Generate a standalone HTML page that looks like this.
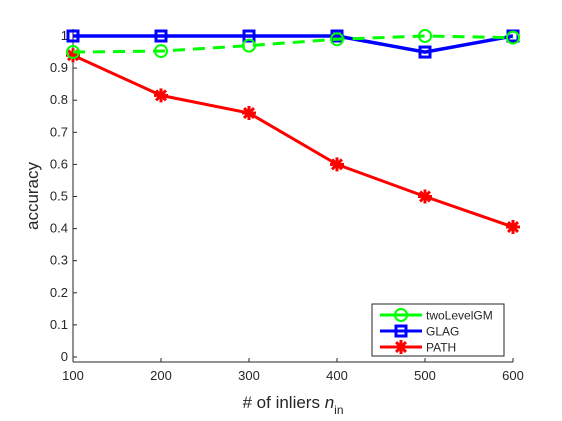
<!DOCTYPE html>
<html><head><meta charset="utf-8"><style>
body{margin:0;background:#fff;}
svg{display:block;font-family:"Liberation Sans",sans-serif;}
</style></head><body>
<svg id="chart" width="562" height="421">
<g id="axes"></g>
<g id="series"></g>
<g id="legend"></g>
</svg>
<script>
const categories=[100,200,300,400,500,600];
const twoLevelGM=[0.95,0.953,0.97,0.99,1.0,0.995];
const glag=[1,1,1,1,0.95,1];
const pathVals=[0.94,0.815,0.76,0.60,0.50,0.405];
const yTicks=[0,0.1,0.2,0.3,0.4,0.5,0.6,0.7,0.8,0.9,1];
const yTickLabels=["0","0.1","0.2","0.3","0.4","0.5","0.6","0.7","0.8","0.9","1"];
const NS="http://www.w3.org/2000/svg";
const X=v=>73+(v-100)/500*440;
const Y=v=>357-v*321;
function mk(tag,attrs,parent,text){const e=document.createElementNS(NS,tag);for(const k in attrs)e.setAttribute(k,attrs[k]);if(text!==undefined)e.textContent=text;parent.appendChild(e);return e;}
const ax=document.getElementById('axes');
let l=mk('line',{x1:73,y1:362,x2:513,y2:362,stroke:'#262626','stroke-width':1},ax);


l=mk('line',{x1:73,y1:362,x2:73,y2:29,stroke:'#262626','stroke-width':1},ax);


categories.forEach(c=>{
 mk('line',{x1:X(c),y1:362,x2:X(c),y2:358,stroke:'#262626'},ax);
 const t=mk('text',{x:X(c),y:380,'text-anchor':'middle','font-size':13,fill:'#262626'},ax,String(c));
 
 
});
yTicks.forEach((v,i)=>{
 mk('line',{x1:73,y1:Y(v),x2:77,y2:Y(v),stroke:'#262626'},ax);
 const t=mk('text',{x:68,y:Y(v)+4,'text-anchor':'end','font-size':13,fill:'#262626'},ax,yTickLabels[i]);
 
 
});
let t=mk('text',{x:293,y:408,'text-anchor':'middle','font-size':17,fill:'#262626'},ax);


t.innerHTML='# of inliers <tspan font-style="italic">n</tspan><tspan font-size="12" dy="6">in</tspan>';
t=mk('text',{x:38,y:196,'text-anchor':'middle','font-size':17,fill:'#262626',transform:'rotate(-90 38 196)'},ax,'accuracy');


const sg=document.getElementById('series');
function marker(kind,x,y,color,g){
 if(kind==='o')mk('circle',{cx:x,cy:y,r:6,fill:'none',stroke:color,'stroke-width':2},g);
 else if(kind==='s')mk('rect',{x:x-5,y:y-5,width:10,height:10,fill:'none',stroke:color,'stroke-width':3},g);
 else{for(let a=0;a<4;a++){const r=a*Math.PI/4;mk('line',{x1:x-7*Math.cos(r),y1:y-7*Math.sin(r),x2:x+7*Math.cos(r),y2:y+7*Math.sin(r),stroke:color,'stroke-width':3},g);}}
}
function series(vals,color,width,dash,kind,name){
 const g=mk('g',{},sg);
 
 
 const pts=vals.map((v,i)=>X(categories[i])+','+Y(v)).join(' ');
 const a={points:pts,fill:'none',stroke:color,'stroke-width':width};
 if(dash)a['stroke-dasharray']=dash;
 mk('polyline',a,g);
 vals.forEach((v,i)=>marker(kind,X(categories[i]),Y(v),color,g));
}
series(pathVals,'#ff0000',3,null,'*','path-series');
series(glag,'#0000ff',3.5,null,'s','glag-series');
series(twoLevelGM,'#00ff00',3,'12 8','o','twolevelgm-series');
const lg=document.getElementById('legend');
mk('rect',{x:372,y:304,width:132,height:52,fill:'#fff',stroke:'#262626','stroke-width':1},lg);
const items=[['twoLevelGM','#00ff00','o'],['GLAG','#0000ff','s'],['PATH','#ff0000','*']];
items.forEach((it,i)=>{
 const y=315+i*16;
 const g=mk('g',{},lg);
 
 
 mk('line',{x1:380,y1:y,x2:422,y2:y,stroke:it[1],'stroke-width':3},g);
 marker(it[2],401,y,it[1],g);
 mk('text',{x:426,y:y+4.5,'font-size':12,fill:'#262626'},g,it[0]);
});
</script>
</body></html>
